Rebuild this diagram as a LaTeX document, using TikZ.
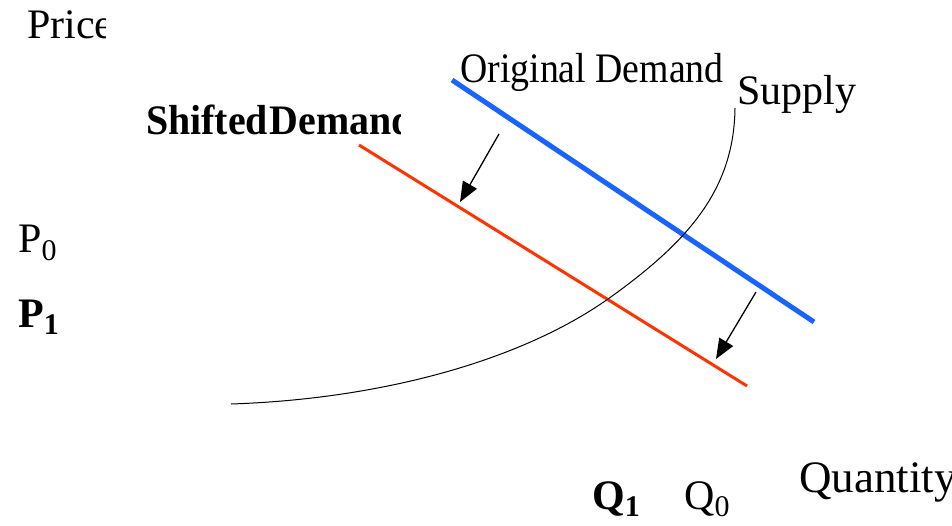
\documentclass[tikz,border=0pt]{standalone}
\usepackage{fontspec}
\setmainfont{Liberation Serif}
\usetikzlibrary{arrows.meta}
\definecolor{demblue}{RGB}{25,100,255}
\definecolor{demred}{RGB}{255,51,0}
\newcommand\lowsub[1]{\raisebox{-0.18em}{\fontsize{30}{30}\selectfont #1}}
\begin{document}
\begin{tikzpicture}[x=1pt,y=-1pt,
  lbl/.style={inner sep=0pt,anchor=base west,font=\fontsize{42}{50}\selectfont},
  blbl/.style={inner sep=0pt,anchor=base west,font=\fontsize{42}{50}\selectfont\bfseries},
  shiftarrow/.style={line width=1.3pt,-{Triangle[length=20pt,width=16pt]}},
  origline/.style={demblue,line width=5pt},
  newline/.style={demred,line width=3pt},
  supplyline/.style={black,line width=1pt}
]
\useasboundingbox (0,0) rectangle (952,526);
% labels
\begin{scope}
  \clip (0,0) rectangle (105,60);
  \node[lbl] (price) at (27,39) {Price};
\end{scope}
\begin{scope}
  \clip (100,90) rectangle (400,160);
  \node[blbl] (shifted) at (146,135) {\scalebox{0.95}[1]{Shifted\hspace{0.04em}Demand}};
\end{scope}
\node[lbl] (orig) at (460,83) {\scalebox{0.9}[1]{Original Demand}};
\node[lbl] (supply) at (737,105) {Supply};
\node[lbl] (p0) at (18,253) {P\lowsub{0}};
\node[blbl] (p1) at (18,327) {P\lowsub{\bfseries 1}};
\node[blbl] (q1) at (592,509) {Q\lowsub{\bfseries 1}};
\node[lbl] (q0) at (684,509) {Q\lowsub{0}};
\node[lbl, font=\fontsize{45}{54}\selectfont] (quantity) at (799,492) {Quantity};
% curves
\coordinate (ob) at (452,80);
\coordinate (oe) at (814,322);
\coordinate (sb) at (359,145);
\coordinate (se) at (747,386);
\draw[origline] (ob) -- (oe);
\draw[newline] (sb) -- (se);
\coordinate (s0) at (231,404);
\coordinate (s1) at (608,299);
\coordinate (s2) at (735,108);
\draw[supplyline] (s0) .. controls (381,399) and (520,361) .. (s1)
  .. controls (688,242) and (734,190) .. (s2);
% shift arrows
\coordinate (a1s) at (499,134);
\coordinate (a1e) at (460,202);
\coordinate (a2s) at (756,292);
\coordinate (a2e) at (716,359);
\draw[shiftarrow] (a1s) -- (a1e);
\draw[shiftarrow] (a2s) -- (a2e);
\end{tikzpicture}
\end{document}
